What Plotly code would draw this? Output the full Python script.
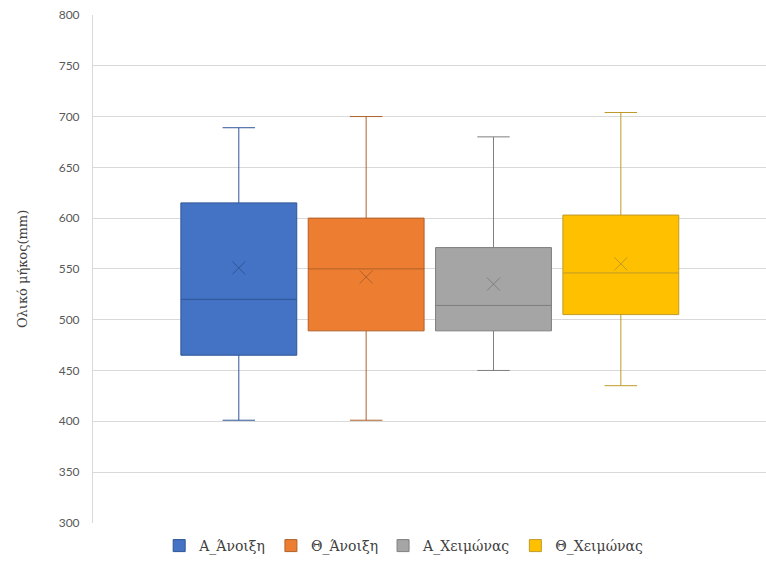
import plotly.graph_objects as go

series = ["Α_Άνοιξη", "Θ_Άνοιξη", "Α_Χειμώνας", "Θ_Χειμώνας"]
lower = [401, 401, 450, 435]
q1 = [465, 489, 489, 505]
median = [520, 550, 514, 546]
q3 = [615, 600, 571, 603]
upper = [689, 700, 680, 704]
mean = [551, 542, 535, 555]

fill_colors = ["#4472C4", "#ED7D31", "#A5A5A5", "#FFC000"]
line_colors = ["#2F5597", "#B0612A", "#7F7F7F", "#BF9A2A"]

y_ticks = [300, 350, 400, 450, 500, 550, 600, 650, 700, 750, 800]

fig = go.Figure()
for i, name in enumerate(series):
    fig.add_trace(go.Box(
        x=[i], q1=[q1[i]], median=[median[i]], q3=[q3[i]],
        lowerfence=[lower[i]], upperfence=[upper[i]],
        name=name, width=0.91, whiskerwidth=0.28,
        fillcolor=fill_colors[i],
        line=dict(color=line_colors[i], width=1),
        boxpoints=False, hoverinfo="skip",
    ))
for i, name in enumerate(series):
    fig.add_trace(go.Scatter(
        x=[i], y=[mean[i]], mode="markers", showlegend=False,
        marker=dict(symbol="x-thin-open", size=13, color=line_colors[i],
                    line=dict(color=line_colors[i], width=1)),
        hoverinfo="skip",
    ))

fig.update_layout(
    width=766, height=579,
    margin=dict(l=93, r=0, t=15, b=55),
    plot_bgcolor="white", paper_bgcolor="white",
    showlegend=True,
    legend=dict(orientation="h", xref="container", yref="container",
                x=0.527, xanchor="center", y=0.057, yanchor="middle",
                font=dict(family="DejaVu Serif", size=14, color="#404040"),
                itemwidth=30, traceorder="normal"),
    xaxis=dict(range=[-1.145, 4.14], showticklabels=False, showgrid=False,
               zeroline=False, showline=False, fixedrange=True),
    yaxis=dict(range=[300, 800], tickvals=y_ticks, showgrid=True,
               gridcolor="#D9D9D9", gridwidth=1, zeroline=False,
               showline=True, linecolor="#D9D9D9", linewidth=1,
               ticks="outside", ticklen=10, tickcolor="rgba(0,0,0,0)",
               tickfont=dict(family="Lato", size=12, color="#595959"),
               title=dict(text="Ολικό μήκος(mm)", standoff=28,
                          font=dict(family="DejaVu Serif", size=13, color="#404040"))),
)

fig.write_html("out.html")
